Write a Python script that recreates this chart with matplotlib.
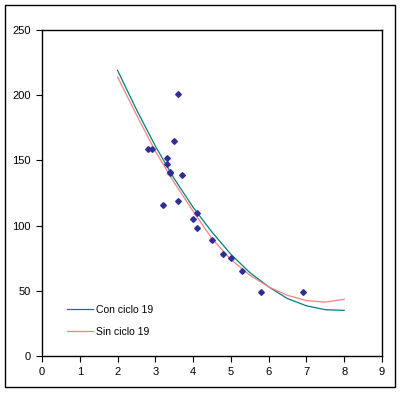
import matplotlib
matplotlib.use("Agg")
import matplotlib.pyplot as plt
from matplotlib.patches import Rectangle

# observed points
obs_x = [2.8, 2.9, 3.2, 3.3, 3.3, 3.4, 3.4, 3.5, 3.6, 3.6, 3.7, 4.0, 4.1, 4.1, 4.5, 4.8, 5.0, 5.3, 5.8, 6.9]
obs_y = [159, 159, 116, 152, 147, 141, 140, 165, 201, 119, 139, 105, 110, 98, 89, 78, 75, 65, 49, 49]

# fitted curves
fit_x = [2, 2.5, 3, 3.5, 4, 4.5, 5, 5.5, 6, 6.5, 7, 7.5, 8]
con_ciclo = [219, 189, 161, 136, 114, 95, 78, 64, 53, 44, 38.5, 35.5, 35]
sin_ciclo = [214, 185, 157, 133, 111, 90, 74, 62, 53, 46.5, 42.5, 41.3, 43.5]

plt.rcParams['font.family'] = ['Liberation Sans', 'DejaVu Sans']

fig = plt.figure(figsize=(4.02, 3.93), dpi=100)
ax = fig.add_axes([42/402, 37/393, 340/402, 326/393])

ax.plot(fit_x, con_ciclo, color="#008080", lw=0.9, label="Con ciclo 19", zorder=2)
ax.plot(fit_x, sin_ciclo, color="#ff8080", lw=0.9, label="Sin ciclo 19", zorder=2)
ax.plot(obs_x, obs_y, ls="none", marker="D", ms=2.9, color="#2e2e96", zorder=3)

ax.set_xlim(0, 9)
ax.set_ylim(0, 250)
ax.set_xticks(range(0, 10))
ax.set_yticks(range(0, 251, 50))
ax.tick_params(direction="out", length=4, width=0.8, labelsize=8, pad=4)
for s in ax.spines.values():
    s.set_linewidth(1.0)

leg = ax.legend(loc="lower left", bbox_to_anchor=(0.045, 0.03), frameon=False,
                fontsize=7.5, handlelength=2.5, handletextpad=0.3, labelspacing=1.15)

# outer chart border
fig.patches.append(Rectangle((5/402, 6/393), 390/402, 382/393, transform=fig.transFigure,
                             fill=False, edgecolor="black", lw=1.0))

fig.savefig("out.png", dpi=100)
